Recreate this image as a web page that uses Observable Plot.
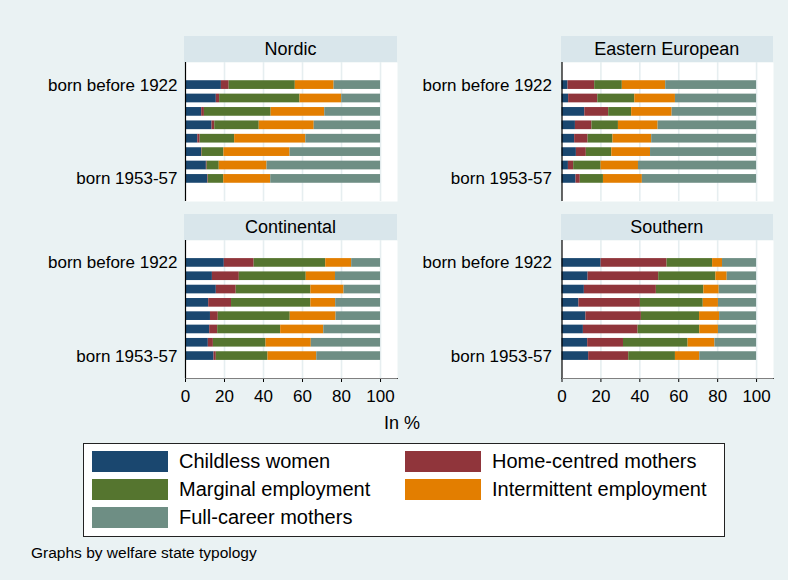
<!DOCTYPE html>
<html>
<head>
<meta charset="utf-8">
<script src="https://cdn.jsdelivr.net/npm/d3@7"></script>
<script src="https://cdn.jsdelivr.net/npm/@observablehq/plot@0.6"></script>
<style>
  html, body { margin: 0; padding: 0; }
  body { width: 788px; height: 580px; background: #eaf2f3; position: relative; overflow: hidden;
         font-family: "Liberation Sans", Arial, Helvetica, sans-serif; color: #000; }
  .abs { position: absolute; }
  .hdr { background: #d9e6eb; text-align: center; font-size: 18px; height: 26px; line-height: 27px; }
  .legend { background: #fff; border: 1.5px solid #222; box-sizing: border-box; }
  .sw { width: 76px; height: 21px; }
  .lt { font-size: 20px; line-height: 21px; white-space: nowrap; }
  svg { overflow: visible; }
</style>
</head>
<body>
<script>
// ---- data ----
const cohorts = ["born before 1922", "born 1922-27", "born 1928-32", "born 1933-37",
                 "born 1938-42", "born 1943-47", "born 1948-52", "born 1953-57"];
const types = ["Childless women", "Home-centred mothers", "Marginal employment",
               "Intermittent employment", "Full-career mothers"];
const colors = ["#1a476f", "#90353b", "#55752f", "#e37e00", "#6e8e84"];
const regions = ["Nordic", "Eastern European", "Continental", "Southern"];
const xTicks = [0, 20, 40, 60, 80, 100];

// rows: cohorts; columns: types (in %)
const nordic = [
  [18.4, 4.0, 33.9, 19.9, 23.8],
  [15.8, 1.7, 41.2, 21.4, 19.9],
  [8.3, 1.4, 34.2, 27.5, 28.6],
  [13.6, 1.4, 22.8, 28.2, 34.0],
  [6.3, 1.2, 17.7, 36.5, 38.3],
  [8.2, 0.3, 11.2, 33.9, 46.4],
  [10.7, 0.4, 6.2, 24.5, 58.2],
  [11.4, 0.3, 7.9, 24.1, 56.3]
];
const eastern = [
  [3.1, 13.7, 14.2, 22.3, 46.7],
  [3.4, 15.0, 19.0, 20.9, 41.7],
  [11.7, 12.3, 11.8, 20.8, 43.4],
  [6.9, 8.5, 13.6, 20.4, 50.6],
  [6.5, 6.9, 12.8, 19.9, 53.9],
  [7.4, 5.1, 13.1, 19.9, 54.5],
  [3.3, 2.7, 14.1, 19.2, 60.7],
  [7.2, 2.2, 11.9, 20.0, 58.7]
];
const continental = [
  [19.9, 15.3, 36.7, 13.3, 14.8],
  [13.8, 13.8, 34.3, 15.0, 23.1],
  [15.8, 10.2, 38.3, 17.0, 18.7],
  [11.9, 11.7, 40.7, 12.7, 23.0],
  [12.8, 4.0, 36.9, 23.5, 22.8],
  [12.4, 4.1, 32.3, 22.1, 29.1],
  [11.7, 2.6, 27.0, 23.2, 35.5],
  [14.6, 1.2, 26.5, 25.0, 32.7]
];
const southern = [
  [20.1, 33.9, 23.4, 5.1, 17.5],
  [13.4, 36.3, 29.4, 5.8, 15.1],
  [11.5, 37.0, 24.4, 7.9, 19.2],
  [8.7, 31.6, 32.3, 7.8, 19.6],
  [12.3, 28.5, 29.9, 10.3, 19.0],
  [11.0, 28.1, 31.7, 9.6, 19.6],
  [13.2, 18.4, 33.2, 13.8, 21.4],
  [13.7, 20.6, 24.0, 12.5, 29.2]
];
const caption = "Graphs by welfare state typology";
const xTitle = "In %";

// ---- layout ----
const panels = [
  {name: regions[0], values: nordic,      left: 0,   top: 62,  width: 400, ml: 185,   mr: 3,  h: 139, bottom: false, pad: 8},
  {name: regions[1], values: eastern,     left: 400, top: 62,  width: 388, ml: 161.5, mr: 15, h: 139, bottom: false, pad: 10},
  {name: regions[2], values: continental, left: 0,   top: 240, width: 400, ml: 185,   mr: 3,  h: 138, bottom: true,  pad: 8},
  {name: regions[3], values: southern,    left: 400, top: 240, width: 388, ml: 161.5, mr: 15, h: 138, bottom: true,  pad: 10}
];

function el(cls, css, text) {
  const d = document.createElement("div");
  d.className = cls;
  Object.assign(d.style, css);
  if (text != null) d.textContent = text;
  document.body.appendChild(d);
  return d;
}

for (const p of panels) {
  const data = [];
  p.values.forEach((row, i) => row.forEach((v, j) => data.push({cohort: cohorts[i], type: types[j], value: v})));
  const mb = p.bottom ? 32 : 0;
  const chart = Plot.plot({
    width: p.width,
    height: p.h + mb,
    marginLeft: p.ml,
    marginRight: p.mr,
    marginTop: 0,
    marginBottom: mb,
    style: {background: "transparent", fontFamily: '"Liberation Sans", Arial, sans-serif', fontSize: "17px", color: "#000", overflow: "visible"},
    x: p.bottom
      ? {domain: [0, 108.7], ticks: 6, tickSize: 4, tickPadding: 7, line: true, label: null}
      : {domain: [0, 108.7], axis: null},
    y: {domain: cohorts, type: "band", paddingInner: 0.35, paddingOuter: 1.36, round: false,
        tickSize: 0, tickPadding: p.pad, label: null,
        tickFormat: d => (d === cohorts[0] || d === cohorts[cohorts.length - 1]) ? d : ""},
    color: {domain: types, range: colors},
    marks: [
      Plot.frame({fill: "white", stroke: null}),
      Plot.ruleX(xTicks.slice(1), {stroke: "#e6eef0", strokeWidth: 1.6}),
      Plot.barX(data, Plot.stackX({x: "value", y: "cohort", fill: "type", order: types})),
      Plot.ruleX([0], {stroke: "#000", strokeWidth: 1.2})
    ]
  });
  const holder = el("abs", {left: p.left + "px", top: p.top + "px"});
  holder.appendChild(chart);
  // panel header strip
  const px0 = p.left + p.ml - 1;
  const px1 = p.left + p.width - p.mr;
  el("abs hdr", {left: px0 + "px", top: (p.top - 26) + "px", width: (px1 - px0) + "px"}, p.name);
}

// axis title
el("abs", {left: "384px", top: "412px", fontSize: "18px", lineHeight: "22px"}, xTitle);

// legend
el("abs legend", {left: "83px", top: "443px", width: "642px", height: "94px"});
const legPos = [[92, 451], [405, 451], [92, 479], [405, 479], [92, 507]];
const legOrder = [0, 1, 2, 3, 4];
legOrder.forEach((k, i) => {
  const [x, y] = legPos[i];
  el("abs sw", {left: x + "px", top: y + "px", background: colors[k]});
  el("abs lt", {left: (x + 87) + "px", top: y + "px"}, types[k]);
});

// caption
el("abs", {left: "31px", top: "544px", fontSize: "15.5px", lineHeight: "18px"}, caption);
</script>
</body>
</html>
